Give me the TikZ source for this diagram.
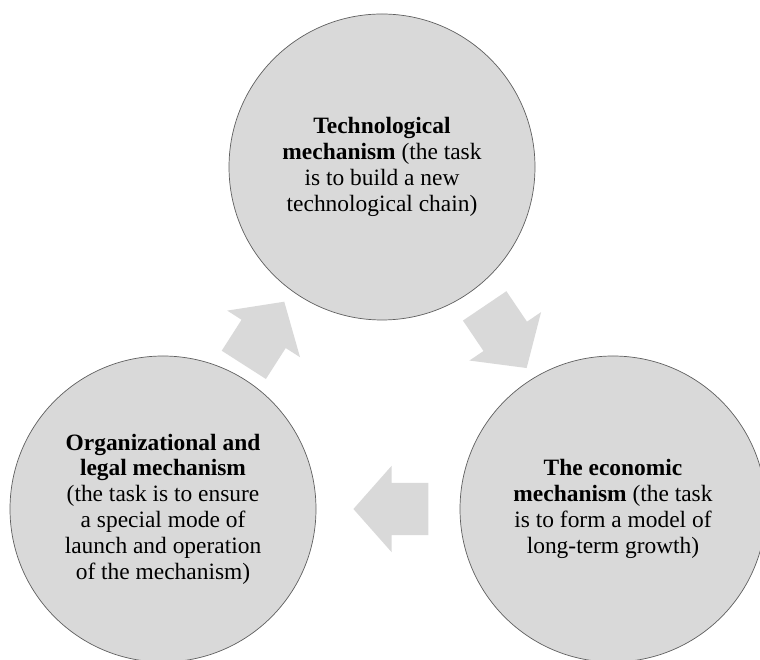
\documentclass[tikz,border=0pt]{standalone}
\usepackage{fontspec}
\setmainfont{Liberation Serif}
\usetikzlibrary{shapes.arrows,positioning}
\definecolor{szurke}{RGB}{217,217,217}
\definecolor{perem}{RGB}{95,95,95}
\tikzset{
  mech/.style={circle,draw=perem,line width=0.6pt,fill=szurke,minimum size=9.18cm,inner sep=0pt,
               align=center,font=\fontsize{20}{22}\selectfont},
  chunk/.style={single arrow,fill=szurke,draw=none,minimum height=2.25cm,inner xsep=0pt,inner ysep=0.78cm,
                single arrow head extend=0.51cm,single arrow tip angle=97,
                sloped,allow upside down,xshift=-0.345cm},
}

\begin{document}
\begin{tikzpicture}
  \useasboundingbox (0,0) rectangle (22.8,19.8);
  \node[mech] (tech) at (11.46,14.79) {\textbf{Technological}\\ \textbf{mechanism} (the task\\
    is to build a new\\ technological chain)};
  \node[mech] (econ) at (18.39,4.53) {\textbf{The economic}\\ \textbf{mechanism} (the task\\
    is to form a model of\\ long-term growth)};
  \node[mech] (org) at (4.89,4.53) {\textbf{Organizational and}\\ \textbf{legal mechanism}\\
    (the task is to ensure\\ a special mode of\\ launch and operation\\ of the mechanism)};
  \path (org) -- node[chunk,pos=0.493,yshift=0.29cm] {} (tech);
  \path (tech) -- node[chunk,pos=0.534,yshift=0.22cm] {} (econ);
  \path (econ) -- node[chunk,pos=0.479] {} (org);
\end{tikzpicture}
\end{document}
